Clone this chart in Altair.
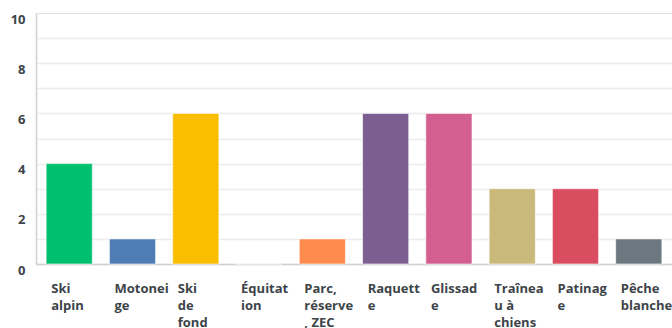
import altair as alt
import pandas as pd

categories = ["Ski alpin", "Motoneige", "Ski de fond", "Équitation", "Parc, réserve, ZEC",
              "Raquette", "Glissade", "Traîneau à chiens", "Patinage", "Pêche blanche"]
wrapped = ["Ski|alpin", "Motonei|ge", "Ski|de|fond", "Équitat|ion", "Parc,|réserve|, ZEC",
           "Raquett|e", "Glissad|e", "Traînea|u à|chiens", "Patinag|e", "Pêche|blanche"]
values = [4, 1, 6, 0, 1, 6, 6, 3, 3, 1]
colors = ["#00BF6F", "#507CB6", "#F9BE00", "#6BC8CD", "#FF8B4F",
          "#7D5E90", "#D25F90", "#C9B97A", "#DA4C5F", "#6B787F"]

df = pd.DataFrame({"cat": wrapped, "name": categories, "value": values})

font = "Open Sans"
chart = alt.Chart(df).mark_bar(stroke="#ffffff", strokeWidth=1, strokeOpacity=0.6).encode(
    x=alt.X("cat:N", sort=wrapped,
            scale=alt.Scale(paddingInner=0.27, paddingOuter=0.16),
            axis=alt.Axis(title=None, labelAngle=0, labelAlign="left", labelBaseline="top",
                          labelOffset=-18, labelPadding=18, labelLineHeight=17,
                          labelExpr="split(datum.value, '|')",
                          labelFont=font, labelFontSize=13, labelFontWeight="bold",
                          labelColor="#3d4449", ticks=False, domainColor="#d0d0d0",
                          domainWidth=1.5, grid=False)),
    y=alt.Y("value:Q", scale=alt.Scale(domain=[0, 10], nice=False),
            axis=alt.Axis(title=None, values=list(range(0, 11)),
                          labelExpr="datum.value % 2 == 0 ? datum.label : ''",
                          labelFont=font, labelFontSize=13, labelFontWeight="bold",
                          labelColor="#3d4449", labelPadding=11, ticks=False,
                          labelBaseline="top", labelOffset=0,
                          domainColor="#d0d0d0", domainWidth=1.5,
                          gridColor="#ececec", gridWidth=1.5,
                          gridOpacity={"condition": {"test": "datum.value == 10", "value": 0}, "value": 1})),
    color=alt.Color("cat:N", sort=wrapped, scale=alt.Scale(domain=wrapped, range=colors), legend=None),
).properties(
    width=636, height=251,
    autosize=alt.AutoSizeParams(type="none"),
    padding={"left": 36, "top": 13, "right": 0, "bottom": 64},
).configure_view(stroke=None).configure(background="#ffffff")

chart.save("out.html", embed_options={"renderer": "svg", "actions": False})
